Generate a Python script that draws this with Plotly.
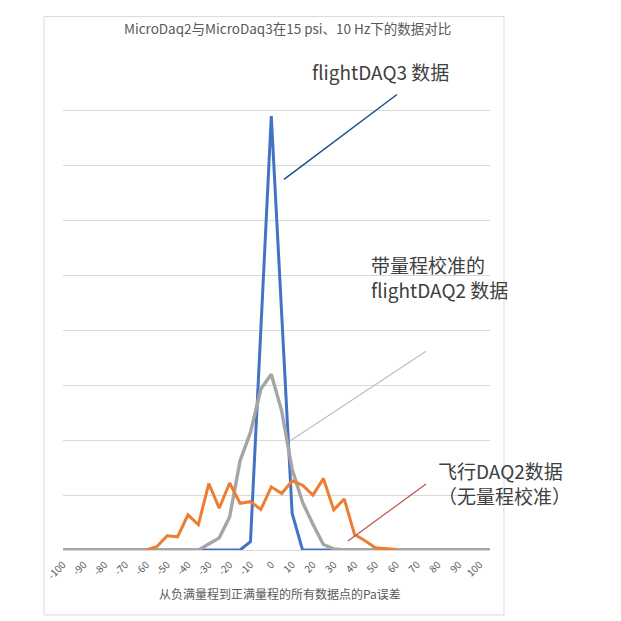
import plotly.graph_objects as go

# ---- data ----
x_cats = list(range(-100, 110, 5))  # -100 .. 105
tick_vals = list(range(-100, 101, 10))
tick_text = [str(v) for v in tick_vals]

blue_map = {-10: 0.15, -5: None, 0: 7.9, 5: None, 10: 0.67}
flightdaq3 = [blue_map.get(v, 0.0) for v in x_cats]

gray_map = {-30: 0.11, -25: 0.22, -20: 0.6, -15: 1.62, -10: 2.14, -5: 2.93, 0: 3.2,
            5: 2.53, 10: 1.47, 15: 0.87, 20: 0.47, 25: 0.1, 30: 0.02}
flightdaq2_cal = [gray_map.get(v, 0.0) for v in x_cats]

orange_x = list(range(-60, 65, 5))
flightdaq2_nocal = [0.0, 0.06, 0.26, 0.24, 0.64, 0.46, 1.21, 0.76, 1.22, 0.85, 0.88, 0.74,
                    1.15, 1.03, 1.26, 1.18, 1.0, 1.30, 0.73, 0.93, 0.28, 0.17, 0.04, 0.03, 0.01]

title_text = "MicroDaq2与MicroDaq3在15 psi、10 Hz下的数据对比"
xaxis_title = "从负满量程到正满量程的所有数据点的Pa误差"
label_daq3 = "flightDAQ3 数据"
label_cal = "带量程校准的<br>flightDAQ2 数据"
label_nocal = "飞行DAQ2数据<br>（无量程校准）"

# ---- layout geometry (pixels) ----
W = H = 621
YMAX = 8.1
PL, PR, PB = 63, 490, 550
PT = PB - YMAX * 55  # 55 px per gridline unit
FONT = "Noto Sans CJK SC"


def px(xp):
    return (xp - PL) / (PR - PL)


def py(yp):
    return (PB - yp) / (PB - PT)


fig = go.Figure()
fig.add_trace(go.Scatter(x=x_cats, y=flightdaq3, mode="lines", connectgaps=True,
                         line=dict(color="#4472C4", width=3), name="flightDAQ3"))
fig.add_trace(go.Scatter(x=x_cats, y=flightdaq2_cal, mode="lines",
                         line=dict(color="#A5A5A5", width=3.4), name="flightDAQ2 cal"))
fig.add_trace(go.Scatter(x=orange_x, y=flightdaq2_nocal, mode="lines",
                         line=dict(color="#ED7D31", width=3), name="flightDAQ2 nocal"))

shapes = [
    dict(type="rect", xref="paper", yref="paper", x0=px(44), x1=px(504), y0=py(615), y1=py(16),
         line=dict(color="#D9D9D9", width=1), layer="below"),
    dict(type="line", xref="paper", yref="paper", x0=px(397), y0=py(94), x1=px(284), y1=py(179),
         line=dict(color="#1F4E8C", width=1.5)),
    dict(type="line", xref="paper", yref="paper", x0=px(426), y0=py(351), x1=px(290), y1=py(441),
         line=dict(color="#BFBFBF", width=1.2)),
    dict(type="line", xref="paper", yref="paper", x0=px(426), y0=py(484), x1=px(348), y1=py(541),
         line=dict(color="#C0504D", width=1.2)),
]

annotations = [
    dict(text=title_text, x=px(287), y=py(27), xref="paper", yref="paper", showarrow=False,
         xanchor="center", yanchor="middle", font=dict(family=FONT, size=13.5, color="#595959")),
    dict(text=xaxis_title, x=px(280), y=py(594), xref="paper", yref="paper", showarrow=False,
         xanchor="center", yanchor="middle", font=dict(family=FONT, size=12, color="#595959")),
    dict(text=label_daq3, x=px(310), y=py(71), xref="paper", yref="paper", showarrow=False,
         xanchor="left", yanchor="middle", font=dict(family=FONT, size=19, color="#404040")),
    dict(text=label_cal, x=px(369), y=py(277), xref="paper", yref="paper", showarrow=False,
         xanchor="left", yanchor="middle", align="left",
         font=dict(family=FONT, size=19, color="#404040")),
    dict(text=label_nocal, x=px(436), y=py(483), xref="paper", yref="paper", showarrow=False,
         xanchor="left", yanchor="middle", align="left",
         font=dict(family=FONT, size=19, color="#404040")),
]

fig.update_layout(
    width=W, height=H,
    margin=dict(l=PL, r=W - PR, t=PT, b=H - PB, pad=0),
    paper_bgcolor="white", plot_bgcolor="white",
    showlegend=False,
    shapes=shapes, annotations=annotations,
    font=dict(family=FONT, color="#595959"),
    xaxis=dict(range=[-100, 105], tickmode="array", tickvals=tick_vals, ticktext=tick_text,
               tickangle=-45, tickfont=dict(size=10, color="#595959", family=FONT),
               ticklabelstandoff=4,
               showgrid=False, zeroline=False, showline=True, linecolor="#D9D9D9",
               ticks="", fixedrange=True),
    yaxis=dict(range=[0, YMAX], dtick=1, showticklabels=False, showgrid=True,
               gridcolor="#D9D9D9", gridwidth=1, zeroline=False, showline=False,
               ticks="", fixedrange=True),
)

fig.write_html("out.html")
